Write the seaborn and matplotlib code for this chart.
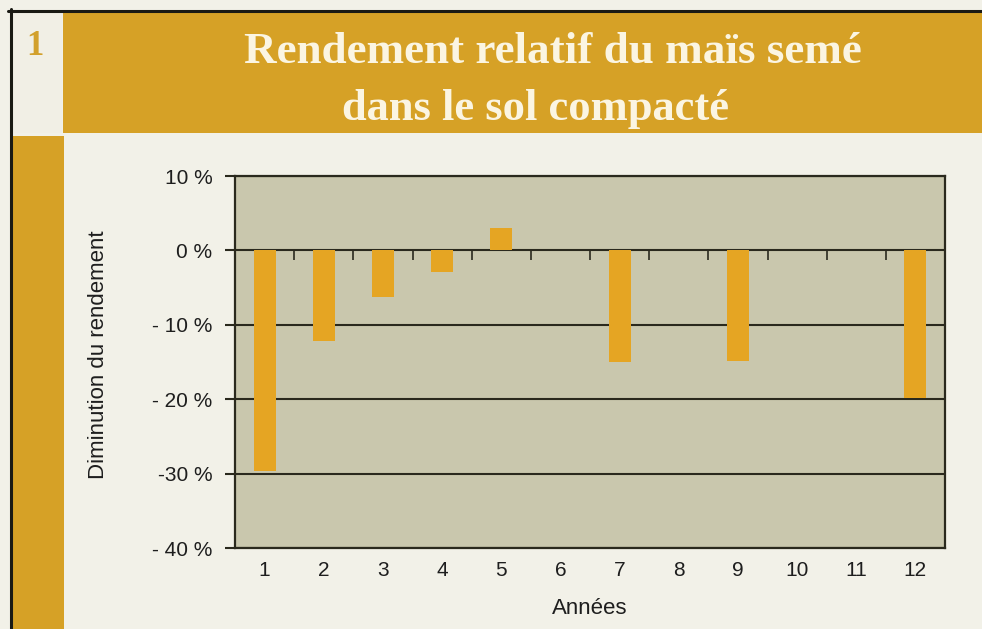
import matplotlib
matplotlib.use("Agg")
import matplotlib.pyplot as plt
import seaborn as sns
import pandas as pd
import numpy as np
from matplotlib.patches import Rectangle
from matplotlib.lines import Line2D

# ---------------- data ----------------
years = ["1", "2", "3", "4", "5", "6", "7", "8", "9", "10", "11", "12"]
rendement = [-29.7, -12.2, -6.3, -2.9, 3.0, np.nan, -15.0, np.nan, -14.8, np.nan, np.nan, -19.8]
ytick_values = [10, 0, -10, -20, -30, -40]
ytick_labels = ["10 %", "0 %", "- 10 %", "- 20 %", "-30 %", "- 40 %"]
title_line1 = "Rendement relatif du maïs semé"
title_line2 = "dans le sol compacté"
panel_number = "1"
xlabel = "Années"
ylabel = "Diminution du rendement"

# ---------------- style ----------------
PAGE = "#f2f1e8"
GOLD = "#d6a126"
BOX = "#f1efe5"
PLOT_BG = "#c9c7ad"
BAR = "#e5a523"
LINE = "#2a291d"
TITLE = "#fbf5e2"
TEXT = "#1e1e1e"

sns.set_style("white")
plt.rcParams["font.family"] = ["Liberation Sans", "DejaVu Sans"]

W, H = 982, 629
fig = plt.figure(figsize=(W / 100, H / 100), dpi=100)
fig.patch.set_facecolor(PAGE)


def rect(x0, y0, x1, y1, color):
    fig.add_artist(Rectangle((x0 / W, 1 - y1 / H), (x1 - x0) / W, (y1 - y0) / H,
                             transform=fig.transFigure, facecolor=color,
                             edgecolor="none", zorder=0))


def hline(x0, x1, y, lw):
    fig.add_artist(Line2D([x0 / W, x1 / W], [1 - y / H, 1 - y / H],
                          transform=fig.transFigure, color="#1a1a14", lw=lw, zorder=1))


def vline(x, y0, y1, lw):
    fig.add_artist(Line2D([x / W, x / W], [1 - y0 / H, 1 - y1 / H],
                          transform=fig.transFigure, color="#1a1a14", lw=lw, zorder=1))


rect(63, 12, 982, 133, GOLD)      # header band
rect(12, 12, 62, 133, BOX)        # number box
rect(12, 136, 64, 629, GOLD)      # left stripe
hline(8, 982, 10.5, 2.2)
vline(10.5, 9, 629, 2.2)

fig.text(35 / W, 1 - 55 / H, panel_number, ha="center", va="baseline",
         fontsize=25, fontweight="bold", color="#d2a02c",
         family=["Liberation Serif", "DejaVu Serif"])
fig.text(553 / W, 1 - 63 / H, title_line1, ha="center", va="baseline",
         fontsize=32.5, fontweight="bold", color=TITLE,
         family=["Liberation Serif", "DejaVu Serif"])
fig.text(536 / W, 1 - 120 / H, title_line2, ha="center", va="baseline",
         fontsize=32, fontweight="bold", color=TITLE,
         family=["Liberation Serif", "DejaVu Serif"])

# ---------------- chart ----------------
ax = fig.add_axes([235 / W, 1 - 548 / H, 710 / W, 372 / H])
df = pd.DataFrame({"Année": years, "Rendement": rendement})
sns.barplot(data=df, x="Année", y="Rendement", order=years, color=BAR,
            saturation=1, width=0.37, errorbar=None, ax=ax, zorder=3,
            linewidth=0)

ax.set_facecolor(PLOT_BG)
ax.set_xlim(-0.5, len(years) - 0.5)
ax.set_ylim(-40, 10)
ax.set_yticks(ytick_values, ytick_labels)
ax.set_axisbelow(True)
ax.grid(axis="y", color=LINE, lw=1.5)
ax.grid(axis="x", visible=False)

# small tick marks on the zero line between categories
ax.vlines(np.arange(len(years) - 1) + 0.5, -1.3, 0, color=LINE, lw=1.2, zorder=2)

for s in ax.spines.values():
    s.set_visible(True)
    s.set_color(LINE)
    s.set_linewidth(1.6)

ax.tick_params(axis="y", left=True, length=7.2, width=1.5, color=LINE,
               pad=9, labelsize=15, labelcolor=TEXT, direction="out")
ax.tick_params(axis="x", length=0, pad=9, labelsize=15, labelcolor=TEXT)

ax.set_xlabel(xlabel, fontsize=16, color=TEXT)
ax.set_ylabel(ylabel, fontsize=16, color=TEXT)
ax.xaxis.set_label_coords(0.5, -0.135)
ax.yaxis.set_label_coords(-0.178, 0.52)

fig.savefig("out.png", dpi=100, facecolor=PAGE)
